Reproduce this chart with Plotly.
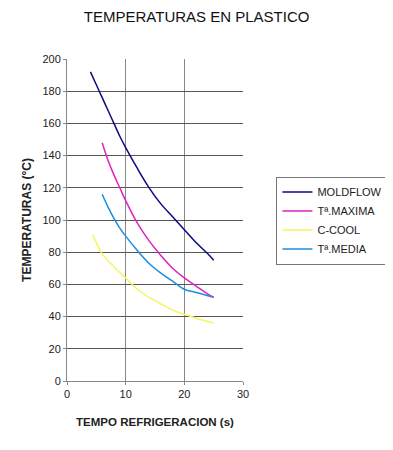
import plotly.graph_objects as go

x_moldflow = [4, 5, 6, 7, 8, 9, 10, 12, 14, 16, 18, 20, 22, 24, 25]
y_moldflow = [192, 184, 176, 168, 160, 152, 145, 132, 120, 110, 102, 94, 86, 79, 75]

x_maxima = [6, 7, 8, 9, 10, 12, 14, 16, 18, 20, 22, 24, 25]
y_maxima = [148, 137, 128, 120, 112, 98, 87, 78, 70, 64, 59, 54, 52]

x_ccool = [4.4, 5, 6, 8, 10, 12, 14, 16, 18, 20, 22, 24, 25]
y_ccool = [91, 86, 79, 71, 64, 57, 52, 48, 44, 41.5, 39, 37, 36]

x_media = [6, 7, 8, 9, 10, 12, 14, 16, 18, 20, 22, 24, 25]
y_media = [116, 108, 101, 95, 90, 81, 73, 67, 62, 57, 55, 53, 52]

names = ["MOLDFLOW", "Tª.MAXIMA", "C-COOL", "Tª.MEDIA"]
colors = ["#0a0a80", "#e020c0", "#f5f560", "#1a8ee0"]
xs = [x_moldflow, x_maxima, x_ccool, x_media]
ys = [y_moldflow, y_maxima, y_ccool, y_media]

fig = go.Figure()
for n, c, xv, yv in zip(names, colors, xs, ys):
    fig.add_trace(go.Scatter(x=xv, y=yv, mode="lines", name=n,
                             line=dict(color=c, width=1.5, shape="spline",
                                       smoothing=1.0)))

font = "Liberation Sans, Arial, sans-serif"
fig.update_layout(
    width=393, height=450,
    margin=dict(l=59, r=158, t=51, b=77, autoexpand=False),
    paper_bgcolor="white", plot_bgcolor="white",
    title=dict(text="TEMPERATURAS EN PLASTICO", x=0.48, xanchor="center",
               y=1, yanchor="top", pad=dict(t=3),
               font=dict(family=font, size=15, color="#111")),
    font=dict(family=font, color="#222"),
    showlegend=True,
    legend=dict(x=1.19, xanchor="left", y=0.635, yanchor="top",
                bordercolor="#777", borderwidth=1,
                font=dict(family=font, size=11, color="#222"),
                itemwidth=30, tracegroupgap=0),
    xaxis=dict(range=[0, 30], tickvals=[0, 10, 20, 30],
               showgrid=True, gridcolor="#888", gridwidth=1,
               zeroline=False, showline=True, linecolor="#888",
               ticks="outside", ticklen=3, tickcolor="#888",
               tickfont=dict(size=11),
               title=dict(text="<b>TEMPO REFRIGERACION (s)</b>",
                          font=dict(size=11.5, color="#222"), standoff=18)),
    yaxis=dict(range=[0, 200], tickvals=list(range(0, 201, 20)),
               showgrid=True, gridcolor="#555", gridwidth=1,
               zeroline=False, showline=True, linecolor="#888",
               ticks="outside", ticklen=3, tickcolor="#888",
               tickfont=dict(size=11),
               title=dict(text="<b>TEMPERATURAS (°C)</b>",
                          font=dict(size=12, color="#222"), standoff=8)),
)

fig.write_html("out.html")
